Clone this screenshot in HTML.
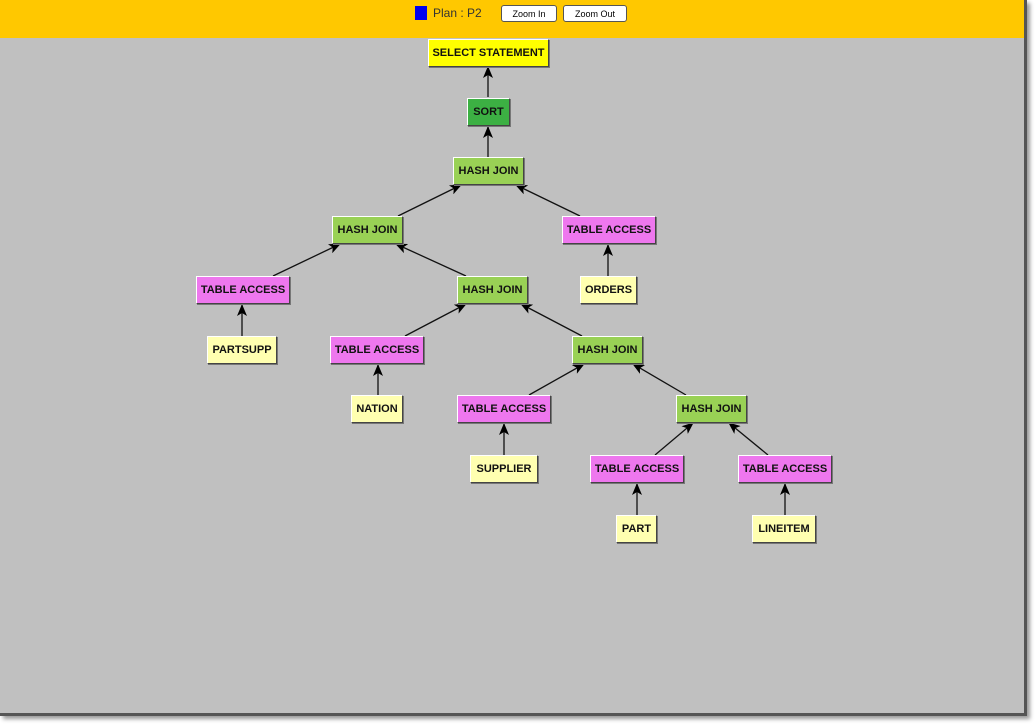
<!DOCTYPE html>
<html><head><style>
body{margin:0;width:1036px;height:726px;background:#fff;position:relative;overflow:hidden;font-family:"Liberation Sans",Arial,sans-serif}
#scr{position:absolute;left:0;top:0;width:1024px;height:713px;background:#c0c0c0;border-right:3px solid #555;border-bottom:3px solid #555;box-shadow:3px 3px 4px #999}
#bar{position:absolute;left:0;top:0;width:1024px;height:38px;background:#ffc800}
.n{position:absolute;box-sizing:border-box;height:28px;font-size:11px;font-weight:bold;color:#111;display:flex;align-items:center;justify-content:center;border:1px solid;border-color:#fff #444 #444 #fff;box-shadow:1px 1px 0 #777}
.y{background:#ffff00}.dg{background:#3cb043}.lg{background:#99d155}.p{background:#ee77ee}.py{background:#ffffb0}
.btn{position:absolute;top:5px;height:17px;background:#fff;border:1px solid #555;border-radius:3px;font-size:9px;display:flex;align-items:center;justify-content:center;box-sizing:border-box}
</style></head><body>
<div id="scr"></div>
<div id="bar"></div>
<div style="position:absolute;left:415px;top:6px;width:12px;height:14px;background:#0000ee"></div>
<div style="position:absolute;left:433px;top:6px;font-size:12px;color:#333">Plan : P2</div>
<div class="btn" style="left:501px;width:56px">Zoom In</div>
<div class="btn" style="left:563px;width:64px">Zoom Out</div>
<svg width="1036" height="726" style="position:absolute;left:0;top:0">
<defs><marker id="a" markerWidth="12" markerHeight="10" refX="11" refY="5" orient="auto" markerUnits="userSpaceOnUse"><path d="M0,0 L12,5 L0,10 L3,5z" fill="#000"/></marker></defs>
<g stroke="#111" stroke-width="1.3" marker-end="url(#a)">
<line x1="488" y1="97" x2="488" y2="67"/>
<line x1="488" y1="157" x2="488" y2="127"/>
<line x1="398" y1="216" x2="461" y2="185"/>
<line x1="580" y1="216" x2="516" y2="185"/>
<line x1="273" y1="276" x2="340" y2="244"/>
<line x1="466" y1="276" x2="396" y2="244"/>
<line x1="608" y1="276" x2="608" y2="245"/>
<line x1="242" y1="336" x2="242" y2="305"/>
<line x1="405" y1="336" x2="466" y2="304"/>
<line x1="582" y1="336" x2="521" y2="304"/>
<line x1="378" y1="395" x2="378" y2="365"/>
<line x1="529" y1="395" x2="584" y2="364"/>
<line x1="686" y1="395" x2="633" y2="364"/>
<line x1="504" y1="455" x2="504" y2="424"/>
<line x1="655" y1="455" x2="693" y2="423"/>
<line x1="768" y1="455" x2="729" y2="423"/>
<line x1="637" y1="515" x2="637" y2="484"/>
<line x1="785" y1="515" x2="785" y2="484"/>
</g></svg>
<div class="n y" style="left:428px;top:39px;width:121px">SELECT STATEMENT</div>
<div class="n dg" style="left:467px;top:98px;width:43px">SORT</div>
<div class="n lg" style="left:453px;top:157px;width:71px">HASH JOIN</div>
<div class="n lg" style="left:332px;top:216px;width:71px">HASH JOIN</div>
<div class="n p" style="left:562px;top:216px;width:94px">TABLE ACCESS</div>
<div class="n p" style="left:196px;top:276px;width:94px">TABLE ACCESS</div>
<div class="n lg" style="left:457px;top:276px;width:71px">HASH JOIN</div>
<div class="n py" style="left:580px;top:276px;width:57px">ORDERS</div>
<div class="n py" style="left:207px;top:336px;width:70px">PARTSUPP</div>
<div class="n p" style="left:330px;top:336px;width:94px">TABLE ACCESS</div>
<div class="n lg" style="left:572px;top:336px;width:71px">HASH JOIN</div>
<div class="n py" style="left:351px;top:395px;width:52px">NATION</div>
<div class="n p" style="left:457px;top:395px;width:94px">TABLE ACCESS</div>
<div class="n lg" style="left:676px;top:395px;width:71px">HASH JOIN</div>
<div class="n py" style="left:470px;top:455px;width:68px">SUPPLIER</div>
<div class="n p" style="left:590px;top:455px;width:94px">TABLE ACCESS</div>
<div class="n p" style="left:738px;top:455px;width:94px">TABLE ACCESS</div>
<div class="n py" style="left:616px;top:515px;width:41px">PART</div>
<div class="n py" style="left:752px;top:515px;width:64px">LINEITEM</div>
</body></html>
